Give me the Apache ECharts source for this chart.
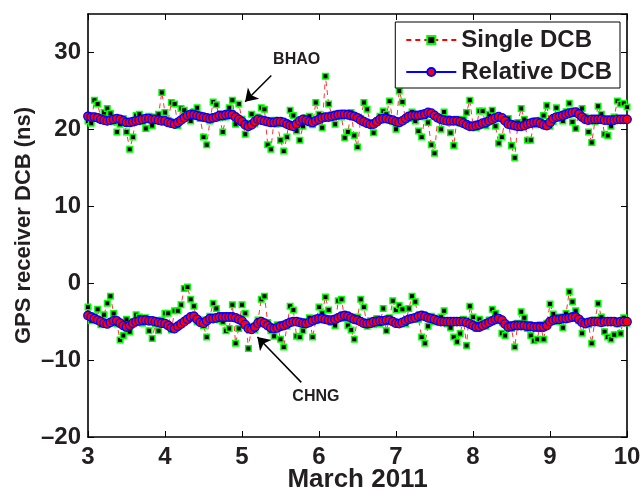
<!DOCTYPE html>
<html>
<head>
<meta charset="utf-8">
<script src="https://cdn.jsdelivr.net/npm/echarts@6/dist/echarts.min.js"></script>
<style>
html,body{margin:0;padding:0;background:#fff;}
#chart{width:642px;height:490px;}
</style>
</head>
<body>
<div id="chart"></div>
<script>
// Hourly samples from 3 March 00:00 to 10 March 00:00 (169 epochs)
const startDay = 3;
const stepDay = 1 / 24;
const xTicks = [3, 4, 5, 6, 7, 8, 9, 10];
const yTicks = [-20, -10, 0, 10, 20, 30];

const bhaoRelative = [
  21.7,21.6,21.6,21.5,21.3,21.2,21.1,21.2,21.3,21.4,21.3,21.1,20.9,20.9,21.0,21.1,21.2,21.3,21.4,21.4,21.3,21.3,21.2,21.1,
  21.1,20.9,20.8,20.7,20.9,21.2,21.5,21.8,21.95,21.9,21.8,21.7,21.6,21.5,21.4,21.5,21.6,21.8,21.8,21.9,21.95,21.9,21.6,21.3,
  21.0,20.6,20.4,20.6,21.0,21.3,21.2,21.1,21.0,20.9,20.9,21.0,21.0,20.9,20.7,20.5,20.4,20.7,21.1,21.3,21.2,21.0,20.9,21.1,
  21.3,21.5,21.6,21.6,21.7,21.8,21.9,21.95,21.95,21.9,21.8,21.7,21.5,21.2,21.0,20.8,20.65,20.7,21.0,21.3,21.4,21.4,21.3,21.2,
  21.0,20.9,21.1,21.4,21.7,21.8,21.8,21.8,21.9,22.0,22.2,22.1,21.8,21.5,21.3,21.2,21.1,21.1,21.1,21.1,21.0,20.8,20.6,20.4,
  20.4,20.5,20.6,20.8,20.9,21.1,21.3,21.5,21.65,21.5,21.1,20.7,20.6,20.5,20.4,20.4,20.5,20.7,20.8,20.9,20.95,20.8,20.6,20.5,
  20.9,21.4,21.6,21.7,21.8,21.95,22.1,22.2,22.25,22.0,21.6,21.3,21.2,21.3,21.3,21.3,21.3,21.2,21.2,21.2,21.2,21.3,21.3,21.3,
  21.3
];
const bhaoSingle = [
  21.1,20.8,23.8,23.3,21.5,22.2,22.7,22.1,21.0,19.65,20.65,21.4,19.65,17.4,19.0,21.8,21.95,21.0,20.1,21.7,20.5,21.6,21.95,24.8,
  22.2,21.2,23.5,23.3,20.5,22.7,22.5,21.5,21.1,22.3,22.8,21.4,19.0,18.0,21.1,23.55,23.2,21.5,19.65,21.6,22.8,23.8,20.65,23.3,
  21.3,19.35,20.8,21.95,20.7,21.6,22.8,22.6,18.0,17.4,21.2,20.7,18.6,17.2,19.0,22.5,21.8,19.8,18.6,20.4,21.5,21.7,20.6,23.5,
  21.95,20.2,26.9,23.3,21.9,20.65,22.0,21.6,18.9,19.65,22.2,19.2,17.7,21.4,23.5,22.6,20.8,19.55,21.0,21.7,22.4,21.95,23.7,21.0,
  20.0,25.0,23.55,21.3,21.4,22.25,21.1,19.8,19.0,21.6,20.9,18.0,16.9,21.5,20.0,22.25,21.4,19.55,17.9,21.3,20.8,21.3,22.2,23.8,
  20.6,20.2,22.4,22.4,20.5,21.95,22.5,20.4,18.2,19.0,21.3,21.4,17.9,16.3,20.9,22.7,21.3,18.6,18.6,21.1,20.6,21.2,21.8,23.1,
  20.4,21.0,22.8,21.4,21.1,22.3,23.4,20.95,20.1,22.4,22.7,21.6,19.65,18.3,21.0,23.0,21.95,19.35,19.2,20.4,21.6,23.7,23.3,23.4,
  22.9
];
const chngRelative = [
  -4.2,-4.4,-4.6,-4.8,-5.0,-5.2,-5.3,-5.1,-4.9,-4.9,-5.2,-5.5,-5.7,-5.5,-5.2,-5.0,-4.9,-4.8,-4.8,-4.9,-4.9,-5.0,-5.1,-5.2,
  -5.25,-5.5,-5.8,-5.9,-5.6,-5.3,-5.0,-4.7,-4.4,-4.3,-4.7,-5.1,-5.2,-4.9,-4.6,-4.6,-4.5,-4.4,-4.4,-4.4,-4.4,-4.4,-4.5,-4.7,
  -4.9,-5.4,-5.9,-6.0,-5.7,-5.2,-5.0,-5.2,-5.5,-5.8,-5.9,-5.8,-5.6,-5.5,-5.3,-5.1,-5.0,-5.0,-5.1,-5.2,-5.25,-5.1,-4.9,-4.7,
  -4.6,-4.6,-4.7,-4.8,-4.8,-4.7,-4.5,-4.3,-4.2,-4.3,-4.5,-4.7,-4.8,-5.0,-5.2,-5.25,-5.2,-5.0,-5.0,-4.9,-4.9,-4.8,-4.8,-5.0,
  -5.2,-5.25,-5.1,-4.9,-4.7,-4.6,-4.5,-4.3,-4.2,-4.3,-4.5,-4.6,-4.7,-4.9,-5.0,-5.0,-5.0,-5.0,-5.0,-5.0,-5.0,-5.0,-5.1,-5.3,
  -5.5,-5.7,-5.7,-5.5,-5.3,-5.1,-4.9,-4.7,-4.6,-4.8,-5.3,-5.7,-5.6,-5.5,-5.5,-5.5,-5.5,-5.6,-5.6,-5.7,-5.7,-5.7,-5.7,-5.5,
  -5.0,-4.8,-4.7,-4.7,-4.6,-4.6,-4.5,-4.4,-4.4,-4.7,-5.1,-5.25,-5.1,-5.0,-5.0,-5.0,-5.1,-5.0,-5.0,-5.0,-5.0,-5.1,-5.0,-5.0,
  -5.0
];
const chngSingle = [
  -3.1,-4.9,-4.3,-3.4,-5.4,-4.1,-2.6,-1.7,-3.95,-5.3,-7.4,-6.8,-4.7,-6.3,-5.0,-4.1,-4.4,-5.2,-4.5,-6.2,-7.2,-5.3,-6.2,-4.8,
  -3.9,-3.9,-6.1,-3.6,-3.6,-2.8,-0.7,-0.5,-2.1,-3.0,-5.0,-4.8,-5.5,-7.0,-4.3,-2.6,-3.3,-4.8,-5.0,-6.2,-5.9,-2.8,-7.8,-5.9,
  -2.8,-3.9,-8.5,-5.6,-6.1,-4.8,-2.1,-1.7,-5.1,-6.2,-6.9,-5.4,-7.3,-8.3,-5.6,-3.0,-3.5,-6.9,-7.0,-6.2,-5.0,-4.5,-7.0,-4.9,
  -3.1,-3.9,-1.8,-3.5,-5.1,-5.5,-2.3,-2.1,-4.6,-5.5,-6.1,-7.3,-4.4,-2.1,-3.1,-5.6,-4.9,-5.4,-4.6,-5.3,-3.3,-6.2,-4.5,-2.3,
  -3.5,-2.9,-3.4,-5.3,-3.3,-1.7,-2.4,-4.7,-7.0,-7.8,-5.6,-4.3,-5.0,-4.6,-4.4,-3.6,-5.3,-5.8,-7.0,-7.6,-6.55,-4.7,-8.1,-3.0,
  -4.4,-5.9,-4.7,-5.2,-5.6,-4.8,-3.4,-3.9,-4.9,-6.5,-6.8,-5.4,-5.9,-8.3,-5.2,-3.7,-4.5,-5.9,-6.8,-7.5,-7.3,-5.4,-7.3,-5.2,
  -2.7,-4.0,-5.0,-4.4,-5.8,-3.95,-1.1,-2.4,-3.6,-4.9,-6.5,-5.0,-5.4,-7.8,-4.8,-2.65,-4.4,-6.3,-7.0,-7.3,-6.7,-5.3,-6.55,-4.5,
  -5.2
];

// annotations (data coordinates)
const bhaoLabel = { text: 'BHAO', at: [5.71, 29.1], arrowFrom: [5.38, 27.0], arrowTo: [5.04, 23.6] };
const chngLabel = { text: 'CHNG', at: [5.96, -14.8], arrowFrom: [5.77, -12.9], arrowTo: [5.2, -7.0] };

function pairs(vals) { return vals.map((v, i) => [startDay + i * stepDay, v]); }

const FONT = "Arial, 'Liberation Sans', Helvetica, sans-serif";
const INK = '#231f20';

const singleStyle = {
  type: 'line', name: 'Single DCB', symbol: 'rect', symbolSize: 5.5, showAllSymbol: true,
  lineStyle: { color: '#ff0000', width: 0.8, type: [5, 4] },
  itemStyle: { color: '#000000', borderColor: '#00ff00', borderWidth: 1.5 },
  emphasis: { disabled: true }, z: 2
};
const relStyle = {
  type: 'line', name: 'Relative DCB', symbol: 'circle', symbolSize: 8.5, showAllSymbol: true,
  lineStyle: { color: '#0000ff', width: 1 },
  itemStyle: { color: '#ff0000', borderColor: '#0000ff', borderWidth: 1.3 },
  emphasis: { disabled: true }, z: 3
};

function annotate(a) {
  return {
    silent: true,
    symbol: ['none', 'arrow'], symbolSize: 12,
    lineStyle: { color: '#000', width: 1.5, type: 'solid', opacity: 1 },
    itemStyle: { color: '#000' },
    label: { show: false },
    emphasis: { disabled: true },
    data: [[{ coord: a.arrowFrom }, { coord: a.arrowTo }]]
  };
}
function annotText(a) {
  return {
    silent: true,
    symbol: 'rect', symbolSize: 1, itemStyle: { color: 'rgba(0,0,0,0)' },
    label: { show: true, position: 'inside', formatter: a.text, color: INK, fontFamily: FONT, fontWeight: 'bold', fontSize: 16 },
    data: [{ coord: a.at }]
  };
}

const axisCommon = {
  type: 'value',
  axisLine: { show: true, onZero: false, lineStyle: { color: '#000', width: 1.6 } },
  axisTick: { show: true, inside: true, length: 6, lineStyle: { color: '#000', width: 1 } },
  splitLine: { show: false }
};

const option = {
  animation: false,
  backgroundColor: '#fff',
  grid: { left: 88, right: 15, top: 14, bottom: 53, containLabel: false, outerBoundsMode: 'none' },
  legend: {
    orient: 'vertical', right: 22, top: 22,
    data: ['Single DCB', 'Relative DCB'],
    backgroundColor: '#fff', borderColor: '#000', borderWidth: 1,
    padding: [5, 8, 3, 10], itemGap: 6, itemWidth: 50, itemHeight: 10,
    textStyle: { fontFamily: FONT, fontWeight: 'bold', fontSize: 24, color: INK, lineHeight: 26 },
    selectedMode: false
  },
  xAxis: [
    Object.assign({}, axisCommon, {
      min: xTicks[0], max: xTicks[xTicks.length - 1], interval: 1, position: 'bottom',
      axisLabel: { color: INK, fontFamily: FONT, fontWeight: 'bold', fontSize: 24, margin: 8 },
      name: 'March 2011', nameLocation: 'middle', nameGap: 30, nameMoveOverlap: false,
      nameTextStyle: { color: INK, fontFamily: FONT, fontWeight: 'bold', fontSize: 26, lineHeight: 26, verticalAlign: 'top' }
    }),
    Object.assign({}, axisCommon, {
      min: xTicks[0], max: xTicks[xTicks.length - 1], interval: 1, position: 'top',
      axisLabel: { show: false }
    })
  ],
  yAxis: [
    Object.assign({}, axisCommon, {
      min: yTicks[0], max: 35, interval: 10, position: 'left',
      axisLabel: {
        color: INK, fontFamily: FONT, fontWeight: 'bold', fontSize: 24, margin: 7, showMaxLabel: false,
        formatter: v => yTicks.indexOf(v) >= 0 ? String(v).replace('-', '\u2013') : ''
      },
      name: 'GPS receiver DCB (ns)', nameLocation: 'middle', nameGap: 53, nameMoveOverlap: false,
      nameTextStyle: { color: INK, fontFamily: FONT, fontWeight: 'bold', fontSize: 22 }
    }),
    Object.assign({}, axisCommon, {
      min: yTicks[0], max: 35, interval: 10, position: 'right',
      axisLabel: { show: false }
    })
  ],
  series: [
    Object.assign({}, singleStyle, { data: pairs(bhaoSingle) }),
    Object.assign({}, singleStyle, { data: pairs(chngSingle) }),
    Object.assign({}, relStyle, { data: pairs(bhaoRelative), markLine: annotate(bhaoLabel), markPoint: annotText(bhaoLabel) }),
    Object.assign({}, relStyle, { data: pairs(chngRelative), markLine: annotate(chngLabel), markPoint: annotText(chngLabel) })
  ]
};

const chart = echarts.init(document.getElementById('chart'), null, { renderer: 'canvas' });
chart.setOption(option);
</script>
</body>
</html>
